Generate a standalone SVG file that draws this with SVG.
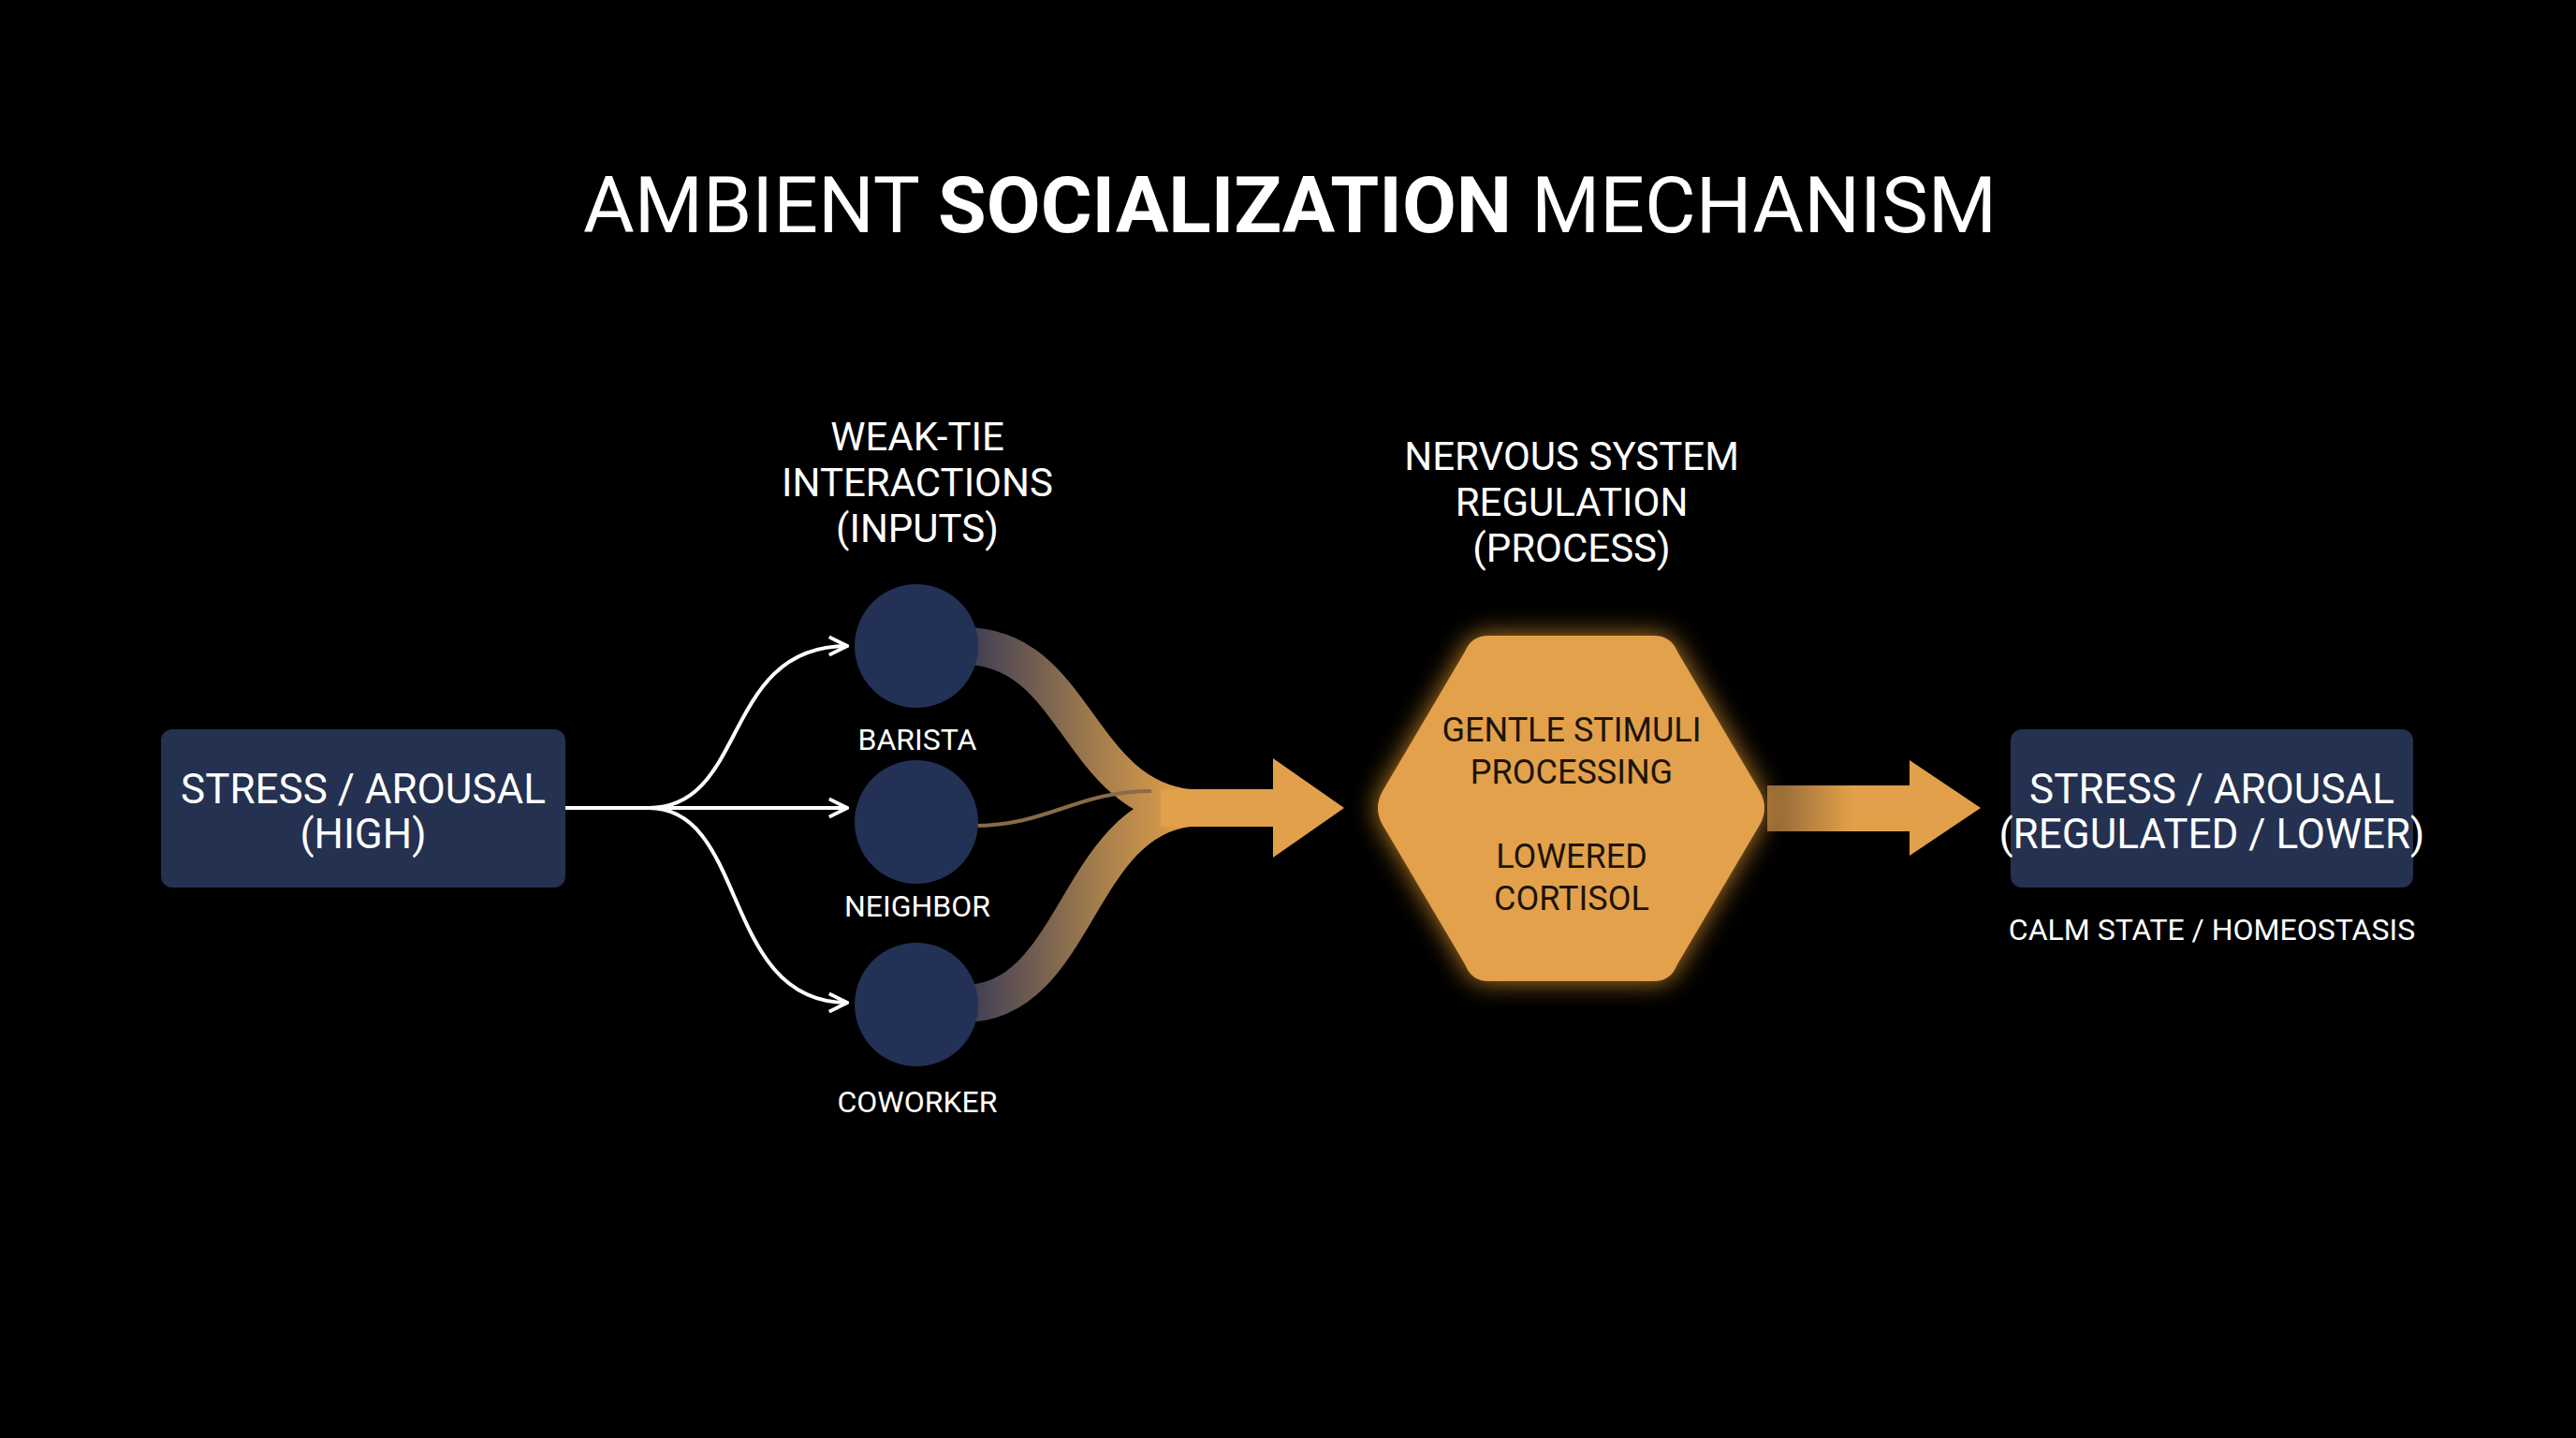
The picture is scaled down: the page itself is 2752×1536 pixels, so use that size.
<svg xmlns="http://www.w3.org/2000/svg" width="2752" height="1536" viewBox="0 0 2752 1536">
<defs>
<style>
text{font-family:Roboto,"Liberation Sans",sans-serif;text-anchor:middle;fill:#fff}
.t{font-size:84px}
.h{font-size:42px}
.b{font-size:44px}
.s{font-size:32px}
.x{font-size:36px;fill:#1c1408}
.box{fill:#243150}
.c{fill:#223155}
</style>
<linearGradient id="og" x1="0" y1="0" x2="1" y2="0">
<stop offset="0" stop-color="#3a3a55"/><stop offset="0.6" stop-color="#a57e4c"/><stop offset="1" stop-color="#e3a04a"/>
</linearGradient>
<linearGradient id="rg" x1="0" y1="0" x2="1" y2="0">
<stop offset="0" stop-color="#8a6436"/><stop offset="0.4" stop-color="#e3a04a"/><stop offset="1" stop-color="#e3a04a"/>
</linearGradient>
<filter id="glow" x="-30%" y="-30%" width="160%" height="160%">
<feGaussianBlur in="SourceAlpha" stdDeviation="14" result="b"/>
<feFlood flood-color="#f0a030" flood-opacity="0.8"/><feComposite in2="b" operator="in" result="g"/>
<feMerge><feMergeNode in="g"/><feMergeNode in="SourceGraphic"/></feMerge>
</filter>
<marker id="wa" viewBox="0 0 10 10" refX="9" refY="5" markerWidth="6" markerHeight="6" orient="auto" markerUnits="strokeWidth">
<path d="M1,1 L9,5 L1,9" fill="none" stroke="#fff" stroke-width="1.6"/>
</marker>
</defs>
<rect width="2752" height="1536" fill="#000"/>
<text class="t" x="1378" y="248">AMBIENT <tspan font-weight="bold">SOCIALIZATION</tspan> MECHANISM</text>

<g id="connectors">
<g fill="none" stroke="#fff" stroke-width="4">
<path d="M604,863 L693,863" />
<path d="M693,863 C800,863 770,690 905,690" marker-end="url(#wa)"/>
<path d="M693,863 L905,863" marker-end="url(#wa)"/>
<path d="M693,863 C800,863 770,1071 905,1071" marker-end="url(#wa)"/>
</g>
<g fill="none" stroke="url(#og)" stroke-width="40">
<path d="M1030,690 C1150,690 1150,850 1270,863"/>
<path d="M1030,1072 C1150,1072 1150,876 1270,863"/>
</g>
<path d="M1040,882 C1120,882 1150,845 1230,845" fill="none" stroke="#8a6a48" stroke-width="4"/>
<path d="M1240,863 L1360,863" stroke="#e3a04a" stroke-width="40"/>
<path d="M1360,810 L1436,863 L1360,916 Z" fill="#e3a04a"/>
<path d="M1888,839 L2040,839 L2040,812 L2116,863 L2040,914 L2040,888 L1888,888 Z" fill="url(#rg)"/>
</g>

<g id="input-box">
<rect class="box" x="172" y="779" width="432" height="169" rx="12"/>
<text class="b" x="388" y="858">STRESS / AROUSAL</text>
<text class="b" x="388" y="906">(HIGH)</text>
</g>

<g id="inputs-header">
<text class="h" x="980" y="481">WEAK-TIE</text>
<text class="h" x="980" y="530">INTERACTIONS</text>
<text class="h" x="980" y="579">(INPUTS)</text>
</g>
<g id="barista"><circle class="c" cx="979" cy="690" r="66"/><text class="s" x="980" y="801">BARISTA</text></g>
<g id="neighbor"><circle class="c" cx="979" cy="878" r="66"/><text class="s" x="980" y="979">NEIGHBOR</text></g>
<g id="coworker"><circle class="c" cx="979" cy="1073" r="66"/><text class="s" x="980" y="1188">COWORKER</text></g>

<g id="process-header">
<text class="h" x="1679" y="502">NERVOUS SYSTEM</text>
<text class="h" x="1679" y="551">REGULATION</text>
<text class="h" x="1679" y="600">(PROCESS)</text>
</g>
<g id="process">
<path d="M1590,679 L1767,679 Q1785,679 1792,696 L1880,845 Q1890,863 1880,881 L1792,1030 Q1785,1048 1767,1048 L1590,1048 Q1572,1048 1565,1030 L1477,881 Q1467,863 1477,845 L1565,696 Q1572,679 1590,679 Z" fill="#e3a14c" filter="url(#glow)"/>
<text class="x" x="1679" y="792">GENTLE STIMULI</text>
<text class="x" x="1679" y="837">PROCESSING</text>
<text class="x" x="1679" y="927">LOWERED</text>
<text class="x" x="1679" y="972">CORTISOL</text>
</g>

<g id="output-box">
<rect class="box" x="2148" y="779" width="430" height="169" rx="12"/>
<text class="b" x="2363" y="858">STRESS / AROUSAL</text>
<text class="b" x="2363" y="906">(REGULATED / LOWER)</text>
<text class="s" x="2363" y="1004">CALM STATE / HOMEOSTASIS</text>
</g>
</svg>
